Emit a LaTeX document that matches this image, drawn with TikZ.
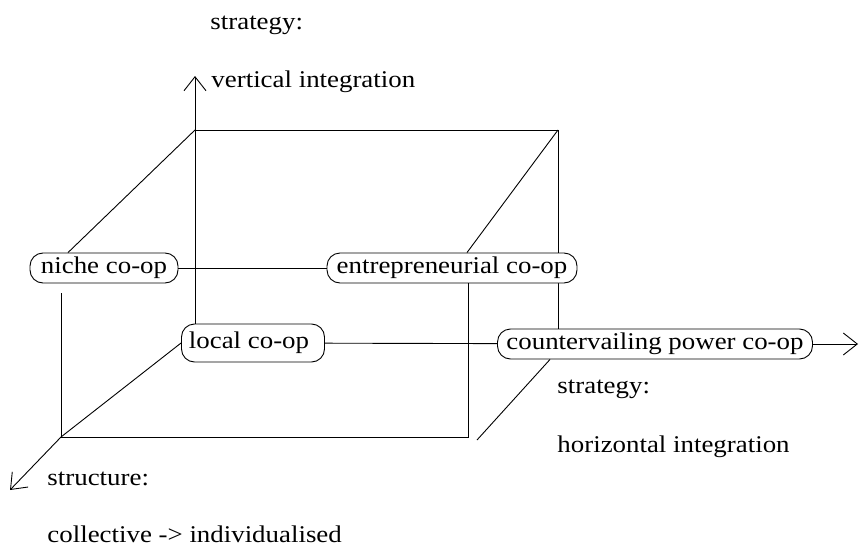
\documentclass[tikz,border=0pt]{standalone}
\usepackage{fontspec}
\setmainfont{Liberation Serif}[FakeStretch=1.12]
\usetikzlibrary{arrows.meta}

\begin{document}
\begin{tikzpicture}[x=1pt,y=-1pt,line width=0.9pt,
		>={Straight Barb[length=14pt,width=22pt]},
		coop/.style={draw,fill=white,rounded corners=13pt,inner xsep=2pt,
			minimum height=30pt,font=\fontsize{24}{28}\selectfont},
		txt/.style={anchor=base west,inner sep=0pt,font=\fontsize{24}{28}\selectfont}]
		
		\useasboundingbox (0,0) rectangle (860,546);
		
		% Ecken und Pfeilspitzen
		\coordinate (A) at (195,130);
		\coordinate (B) at (558,130);
		\coordinate (C) at (61,437);
		\coordinate (D) at (468,437);
		\coordinate (D2) at (477,440);
		\coordinate (vtip) at (195,76);
		\coordinate (htip) at (858,344);
		\coordinate (stip) at (10,490);
		
		% Kanten hinter den Knoten
		\draw (A) -- (B);
		\draw (B) -- (558,344);
		
		% Knoten
		\node[coop,minimum width=148pt] (niche) at (104,268) {niche co-op};
		\node[coop,minimum width=250pt] (entre) at (452,268) {entrepreneurial co-op};
		\node[coop,minimum width=143pt,minimum height=38pt] (local) at (253,343) {local co-op\,\,};
		\node[coop,minimum width=315pt] (counter) at (655,344) {countervailing power co-op};
		
		% Achsen
		\draw[->] (local.north -| A) -- (vtip);
		\draw[->] (counter) -- (htip);
		\draw[->] (C) -- (stip);
		
		% restliche Kanten
		\draw (A) -- ([xshift=-36pt]niche.north);
		\draw (B) -- ([xshift=15pt]entre.north);
		\draw (niche) -- (entre);
		\draw (local) -- (counter);
		\draw ([yshift=-10pt]niche.south -| C) -- (C) -- (D) -- (entre.south -| D);
		\draw (C) -- (local.west);
		\draw (D2) -- ([xshift=-105pt]counter.south);
		
		% Beschriftungen
		\node[txt] (s1) at (210,30) {strategy:};
		\node[txt] (v1) at (211,87) {vertical integration};
		\node[txt] (s2) at (557,393) {strategy:};
		\node[txt] (h1) at (557,452) {horizontal integration};
		\node[txt] (s3) at (47,485) {structure:};
		\node[txt] (c1) at (47,542) {collective -> individualised};
		
	\end{tikzpicture}
\end{document}
